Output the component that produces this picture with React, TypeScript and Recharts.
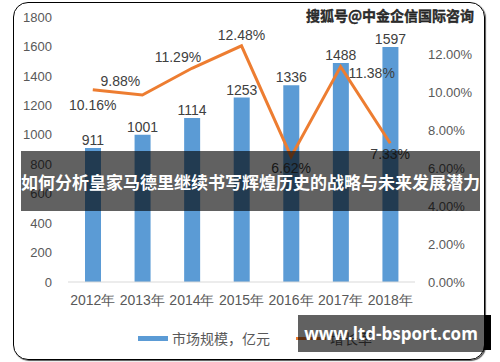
import { ComposedChart, Bar, Line, XAxis, YAxis, LabelList } from "recharts";

const years = ["2012年", "2013年", "2014年", "2015年", "2016年", "2017年", "2018年"];
const marketSize = [911, 1001, 1114, 1253, 1336, 1488, 1597];
const growthRate = [10.16, 9.88, 11.29, 12.48, 6.62, 11.38, 7.33];
const leftTicks = [0, 200, 400, 600, 800, 1000, 1200, 1400, 1600, 1800];
const rightTicks = [0, 2, 4, 6, 8, 10, 12];

// where each growth label sits relative to its point
const rateLabelOffset: [number, number][] = [
  [0, 15],
  [-22, -14],
  [-14, -11],
  [0, -11],
  [0, 11],
  [31, 6],
  [0, 11],
];

const data = years.map((y, i) => ({
  year: y,
  size: marketSize[i],
  rate: growthRate[i],
}));

const NUM_FONT = "'Liberation Sans', Arial, sans-serif";
const CJK_FONT = "'Noto Sans CJK SC', sans-serif";
const tickStyle = { fill: "#595959", fontSize: 13, fontFamily: NUM_FONT };

function RateLabel(props: any) {
  const { x, y, index, value } = props;
  const [dx, dy] = rateLabelOffset[index] || [0, -10];
  return (
    <text
      x={x + dx}
      y={y + dy}
      textAnchor="middle"
      dominantBaseline="central"
      fill="#404040"
      fontSize={14}
      fontFamily={NUM_FONT}
    >
      {`${Number(value).toFixed(2)}%`}
    </text>
  );
}

export default function App() {
  return (
    <div style={{ position: "absolute", left: 0, top: 0, width: 500, height: 362, background: "#fff", overflow: "hidden" }}>
      <div
        style={{
          position: "absolute",
          left: 13,
          top: 2,
          width: 470,
          height: 356,
          border: "1.5px solid #000",
          borderRadius: 15,
          boxShadow: "1px 1px 1px #555",
        }}
      />
      <div style={{ position: "absolute", left: 0, top: 0 }}>
        <ComposedChart width={500} height={362} data={data} margin={{ top: 17, right: 10, bottom: 50, left: 0 }}>
          <XAxis
            dataKey="year"
            height={30}
            tickSize={0}
            tickMargin={13}
            axisLine={{ stroke: "#d9d9d9" }}
            tick={{ fill: "#595959", fontSize: 14, fontFamily: NUM_FONT }}
          />
          <YAxis
            yAxisId="left"
            width={68}
            domain={[0, 1800]}
            ticks={leftTicks}
            tickSize={0}
            tickMargin={16}
            axisLine={false}
            tick={tickStyle}
          />
          <YAxis
            yAxisId="right"
            orientation="right"
            width={75}
            domain={[0, 14]}
            ticks={rightTicks}
            tickSize={0}
            tickMargin={13}
            axisLine={false}
            tick={tickStyle}
            tickFormatter={(v: number) => `${v.toFixed(2)}%`}
          />
          <Bar yAxisId="left" dataKey="size" fill="#5B9BD5" barSize={16} isAnimationActive={false}>
            <LabelList
              dataKey="size"
              position="top"
              offset={3}
              fill="#404040"
              fontSize={14}
              fontFamily={NUM_FONT}
            />
          </Bar>
          <Line
            yAxisId="right"
            dataKey="rate"
            stroke="#ED7D31"
            strokeWidth={3}
            dot={false}
            isAnimationActive={false}
          >
            <LabelList dataKey="rate" content={RateLabel} />
          </Line>
        </ComposedChart>
      </div>

      {/* legend */}
      <div style={{ position: "absolute", left: 138, top: 328, display: "flex", alignItems: "center", fontFamily: CJK_FONT, fontSize: 14, color: "#595959" }}>
        <span style={{ display: "inline-block", width: 30, height: 5, background: "#5B9BD5", marginRight: 4 }} />
        <span>市场规模，亿元</span>
        <span style={{ display: "inline-block", width: 30, height: 3, background: "#ED7D31", marginLeft: 26, marginRight: 4 }} />
        <span>增长率</span>
      </div>

      {/* watermark */}
      <div
        style={{
          position: "absolute",
          left: 306,
          top: 5,
          fontFamily: CJK_FONT,
          fontWeight: 700,
          fontSize: 14,
          color: "#333",
          WebkitTextStroke: "0.3px #000",
          textShadow: "1px 1px 0 #fff, -1px -1px 0 #fff, 1px -1px 0 #fff, -1px 1px 0 #fff",
          background: "rgba(255,255,255,0.85)",
          whiteSpace: "nowrap",
        }}
      >
        搜狐号@中金企信国际咨询
      </div>

      {/* title banner */}
      <div
        style={{
          position: "absolute",
          left: 21,
          top: 151,
          width: 459,
          height: 60,
          background: "rgba(0,0,0,0.62)",
          color: "#fff",
          fontFamily: CJK_FONT,
          fontWeight: 700,
          fontSize: 17,
          display: "flex",
          alignItems: "center",
          justifyContent: "center",
          whiteSpace: "nowrap",
        }}
      >
        如何分析皇家马德里继续书写辉煌历史的战略与未来发展潜力
      </div>

      {/* site box */}
      <div style={{ position: "absolute", left: 484, top: 315, width: 7, height: 35, background: "#000" }} />
      <div
        style={{
          position: "absolute",
          left: 298,
          top: 315,
          width: 186,
          height: 37,
          background: "rgba(0,0,0,0.62)",
          color: "#fff",
          fontFamily: "'Open Sans', 'DejaVu Sans', sans-serif",
          fontWeight: 700,
          fontSize: 17,
          display: "flex",
          alignItems: "center",
          justifyContent: "center",
          whiteSpace: "nowrap",
        }}
      >
        www.ltd-bsport.com
      </div>
    </div>
  );
}
